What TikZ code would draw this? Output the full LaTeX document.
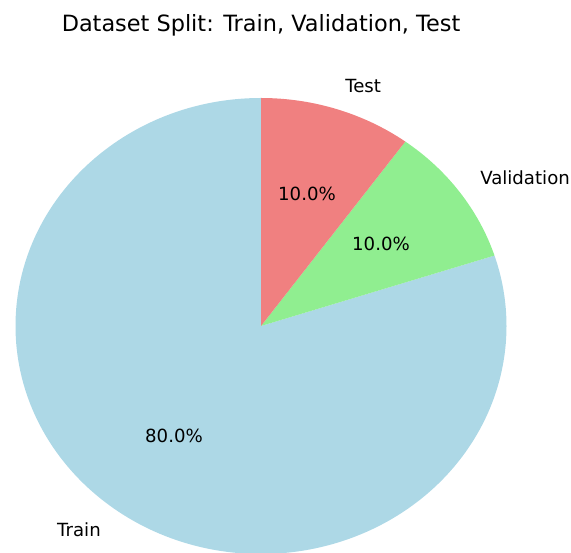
\documentclass[tikz,border=0pt]{standalone}
\usepackage{fontspec}
\setmainfont{DejaVu Sans}
\definecolor{trainc}{RGB}{173,216,230}
\definecolor{valc}{RGB}{144,238,144}
\definecolor{testc}{RGB}{240,128,128}
\tikzset{
  lbl/.style={inner sep=0pt, font=\fontsize{13.6}{16}\selectfont, text=black},
  ttl/.style={inner sep=0pt, font=\fontsize{16.8}{20}\selectfont, text=black},
}
\begin{document}
\begin{tikzpicture}[x=0.75pt,y=0.75pt]
\useasboundingbox (0,0) rectangle (571,553);
\coordinate (C) at (261,227);
% slices (parametric angles on an ellipse)
\fill[trainc] (C) -- ++(90:184.125pt and 171pt) arc[start angle=90, end angle=378, x radius=184.125pt, y radius=171pt] -- cycle;
\fill[valc] (C) -- ++(18:184.125pt and 171pt) arc[start angle=18, end angle=54, x radius=184.125pt, y radius=171pt] -- cycle;
\fill[testc] (C) -- ++(54:184.125pt and 171pt) arc[start angle=54, end angle=90, x radius=184.125pt, y radius=171pt] -- cycle;
% title
\node[ttl, anchor=base] (title) at (261,521) {Dataset Split: Train, Validation, Test};
% labels
\node[lbl, anchor=base west] (ltest) at (345,460) {Test};
\node[lbl, anchor=base west] (lval) at (480,368) {Validation};
\node[lbl, anchor=base east] (ltrain) at (101,16) {Train};
% percentages
\node[lbl, anchor=base] (ptrain) at (174,110) {80.0\%};
\node[lbl, anchor=base] (pval) at (381,302) {10.0\%};
\node[lbl, anchor=base] (ptest) at (307,352) {10.0\%};
\end{tikzpicture}
\end{document}
